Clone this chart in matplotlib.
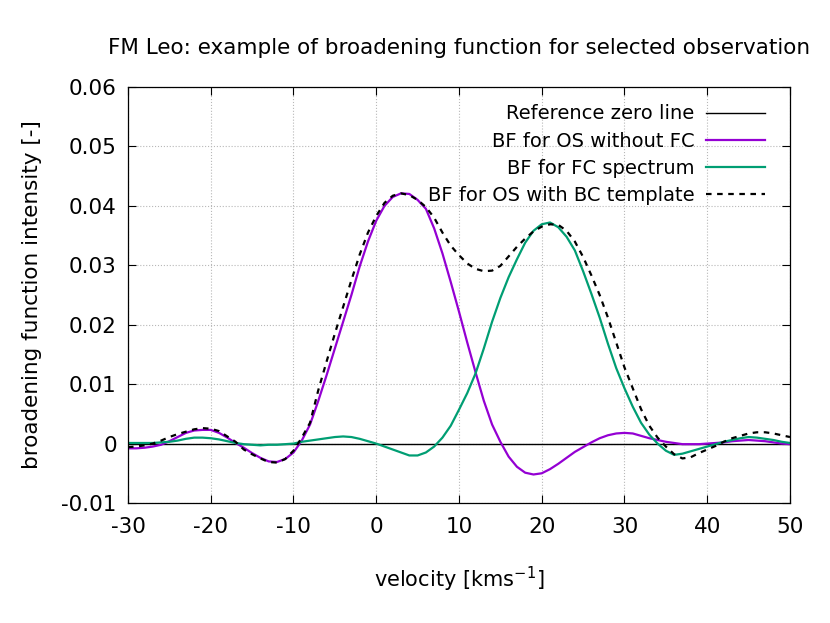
import numpy as np
import matplotlib
matplotlib.use("Agg")
import matplotlib.pyplot as plt

# velocity grid [km/s] and the three broadening functions
velocity = list(range(-30, 51))

bf_os = [-0.0008, -0.0008, -0.0007, -0.0005, -0.0002, 0.0004, 0.0011, 0.0018, 0.0022, 0.0023,
         0.0023, 0.0018, 0.0010, 0.0001, -0.0007, -0.0016, -0.0024, -0.0030, -0.0031, -0.0026,
         -0.0015, 0.0005, 0.0032, 0.0072, 0.0115, 0.0160, 0.0205, 0.0250, 0.0298, 0.0340,
         0.0375, 0.0400, 0.0415, 0.0421, 0.0420, 0.0410, 0.0395, 0.0362, 0.0320, 0.0272,
         0.0222, 0.0170, 0.0120, 0.0072, 0.0032, 0.0003, -0.0022, -0.0039, -0.0049, -0.0052,
         -0.0050, -0.0043, -0.0034, -0.0024, -0.0014, -0.0006, 0.0002, 0.0009, 0.0014, 0.0017,
         0.0018, 0.0017, 0.0013, 0.0009, 0.0006, 0.0003, 0.0001, -0.0001, -0.0001, -0.0001,
         0.0000, 0.0001, 0.0002, 0.0004, 0.0005, 0.0006, 0.0005, 0.0004, 0.0002, 0.0000,
         -0.0001]

bf_fc = [0.0001, 0.0001, 0.0001, 0.0001, 0.0002, 0.0003, 0.0005, 0.0008, 0.0010, 0.0010,
         0.0009, 0.0007, 0.0004, 0.0001, -0.0001, -0.0002, -0.0003, -0.0002, -0.0002, -0.0001,
         0.0000, 0.0003, 0.0005, 0.0007, 0.0009, 0.0011, 0.0012, 0.0011, 0.0008, 0.0004,
         0.0000, -0.0005, -0.0010, -0.0015, -0.0020, -0.0020, -0.0015, -0.0005, 0.0010, 0.0030,
         0.0057, 0.0085, 0.0118, 0.0160, 0.0205, 0.0245, 0.0280, 0.0310, 0.0338, 0.0358,
         0.0369, 0.0372, 0.0364, 0.0348, 0.0325, 0.0290, 0.0252, 0.0212, 0.0168, 0.0127,
         0.0093, 0.0062, 0.0035, 0.0015, 0.0000, -0.0012, -0.0019, -0.0017, -0.0013, -0.0009,
         -0.0005, -0.0001, 0.0003, 0.0006, 0.0009, 0.0011, 0.0010, 0.0008, 0.0006, 0.0003,
         0.0001]

bf_bc = [-0.0006, -0.0005, -0.0003, 0.0000, 0.0005, 0.0011, 0.0016, 0.0020, 0.0024, 0.0026,
         0.0025, 0.0021, 0.0012, 0.0003, -0.0010, -0.0018, -0.0025, -0.0031, -0.0032, -0.0026,
         -0.0012, 0.0010, 0.0035, 0.0090, 0.0138, 0.0185, 0.0230, 0.0275, 0.0318, 0.0355,
         0.0383, 0.0405, 0.0417, 0.0421, 0.0418, 0.0410, 0.0398, 0.0380, 0.0355, 0.0333,
         0.0317, 0.0303, 0.0294, 0.0290, 0.0291, 0.0299, 0.0315, 0.0331, 0.0345, 0.0357,
         0.0365, 0.0369, 0.0368, 0.0358, 0.0340, 0.0314, 0.0283, 0.0250, 0.0212, 0.0170,
         0.0128, 0.0093, 0.0058, 0.0030, 0.0010, -0.0005, -0.0018, -0.0025, -0.0023, -0.0016,
         -0.0010, -0.0004, 0.0003, 0.0009, 0.0013, 0.0017, 0.0019, 0.0019, 0.0017, 0.0014,
         0.0011]

xticks = [-30, -20, -10, 0, 10, 20, 30, 40, 50]
yticks = [-0.01, 0, 0.01, 0.02, 0.03, 0.04, 0.05, 0.06]
ytick_labels = ["-0.01", "0", "0.01", "0.02", "0.03", "0.04", "0.05", "0.06"]

plt.rcParams['font.family'] = ['DejaVu Sans']

fig = plt.figure(figsize=(8.3, 6.23), dpi=100)
ax = fig.add_axes([0.1542, 0.1926, 0.7976, 0.6678])

ax.axhline(0, color='black', lw=1.0, label='Reference zero line')
ax.plot(velocity, bf_os, color='#9400d3', lw=1.6, label='BF for OS without FC')
ax.plot(velocity, bf_fc, color='#009e73', lw=1.6, label='BF for FC spectrum')
ax.plot(velocity, bf_bc, color='black', lw=1.6, ls=(0, (2.5, 2.5)),
        label='BF for OS with BC template')

ax.set_xlim(-30, 50)
ax.set_ylim(-0.01, 0.06)
ax.set_xticks(xticks)
ax.set_xticklabels([str(t) for t in xticks])
ax.set_yticks(yticks)
ax.set_yticklabels(ytick_labels)
ax.tick_params(direction='in', length=6, width=0.8, top=True, right=True, labelsize=15.5)
ax.tick_params(axis='x', pad=10)
ax.tick_params(axis='y', pad=8)
ax.grid(True, color='#b8b8b8', ls=':', lw=0.8)
for s in ax.spines.values():
    s.set_linewidth(0.9)

ax.set_title('FM Leo: example of broadening function for selected observation',
             fontsize=15.5, pad=24)
ax.set_xlabel('velocity [kms$^{-1}$]', fontsize=15, labelpad=20)
ax.set_ylabel('broadening function intensity [-]', fontsize=15.5, labelpad=14)

ax.legend(loc='upper right', bbox_to_anchor=(0.988, 1.0), frameon=False, markerfirst=False,
          handlelength=3.0, labelspacing=0.42, borderaxespad=0.5, handletextpad=0.6,
          fontsize=14)

fig.savefig('out.png', dpi=100)
